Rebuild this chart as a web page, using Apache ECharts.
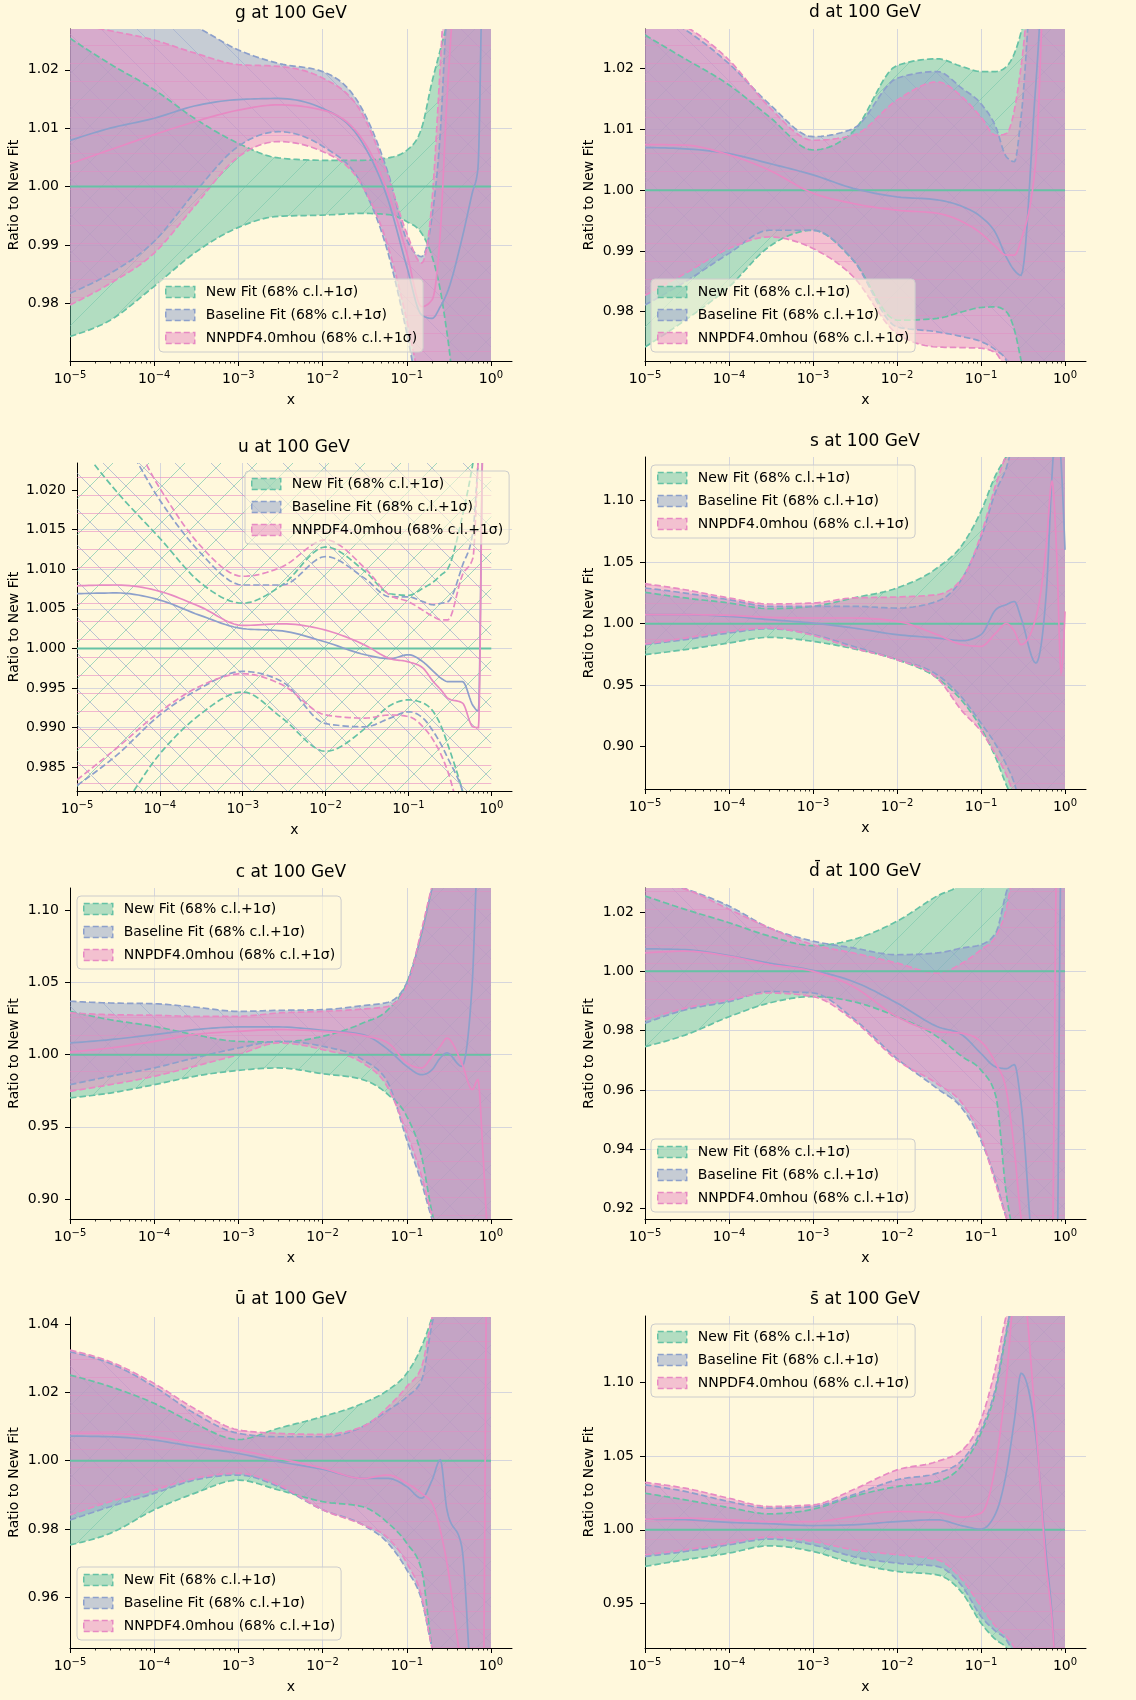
<!DOCTYPE html>
<html>
<head>
<meta charset="utf-8">
<script src="https://cdn.jsdelivr.net/npm/echarts@6/dist/echarts.min.js"></script>
<style>
html, body { margin: 0; padding: 0; background: #fff8dc; }
#chart { width: 1136px; height: 1700px; }
</style>
</head>
<body>
<div id="chart"></div>
<script>
// ================= DATA =================
const xs = [1e-5, 3e-5, 1e-4, 3e-4, 1e-3, 3e-3, 1e-2, 3e-2, 0.06, 0.1, 0.15, 0.2, 0.25, 0.3, 0.45, 0.6, 0.7, 0.8, 0.9, 1.0];
const newFitMid = [1, 1, 1, 1, 1, 1, 1, 1, 1, 1, 1, 1, 1, 1, 1, 1, 1, 1, 1, 1];

// g
const g_newUp  = [1.0254, 1.0210, 1.0166, 1.0117, 1.0074, 1.0049, 1.0045, 1.0045, 1.0049, 1.0062, 1.0100, 1.0180, 1.0234, 1.0280, 1.045, 1.05, 1.05, 1.05, 1.05, 1.05];
const g_newLo  = [0.9743, 0.9771, 0.9829, 0.9886, 0.9930, 0.9949, 0.9951, 0.9954, 0.9952, 0.9940, 0.9920, 0.9880, 0.9823, 0.9750, 0.955, 0.95, 0.95, 0.95, 0.95, 0.95];
const g_baseMid = [1.0079, 1.0100, 1.0117, 1.0138, 1.0149, 1.0151, 1.0134, 1.0074, 0.9977, 0.9863, 0.9780, 0.9774, 0.9794, 0.9817, 0.9909, 0.9989, 1.0030, 1.040, 1.05, 1.05];
const g_baseUp = [1.036, 1.033, 1.030, 1.0275, 1.0234, 1.0211, 1.0197, 1.0131, 1.0023, 0.9909, 0.9880, 0.9949, 1.0091, 1.030, 1.045, 1.05, 1.05, 1.05, 1.05, 1.05];
const g_baseLo = [0.9817, 0.9851, 0.9906, 0.9989, 1.0069, 1.0094, 1.0069, 1.0000, 0.9886, 0.9749, 0.962, 0.956, 0.955, 0.955, 0.955, 0.95, 0.95, 0.95, 0.95, 0.95];
const g_nnMid  = [1.0039, 1.0063, 1.0089, 1.0111, 1.0131, 1.0140, 1.0131, 1.0080, 0.9989, 0.9886, 0.9794, 0.9806, 0.9920, 1.0149, 1.045, 1.05, 1.05, 1.05, 1.05, 1.05];
const g_nnUp   = [1.028, 1.0267, 1.0251, 1.0229, 1.0209, 1.0206, 1.0186, 1.0123, 1.0017, 0.9920, 0.9869, 0.9977, 1.0206, 1.040, 1.05, 1.05, 1.05, 1.05, 1.05, 1.05];
const g_nnLo   = [0.9797, 0.9834, 0.9886, 0.9966, 1.0051, 1.0077, 1.0060, 1.0000, 0.9897, 0.9771, 0.965, 0.958, 0.960, 0.962, 0.955, 0.95, 0.95, 0.95, 0.95, 0.95];

// d
const d_newUp  = [1.0255, 1.0216, 1.0173, 1.0121, 1.0066, 1.0096, 1.0205, 1.0216, 1.0203, 1.0195, 1.0195, 1.0203, 1.0225, 1.0260, 1.04, 1.04, 1.04, 1.04, 1.04, 1.04];
const d_newLo  = [0.9742, 0.9786, 0.9841, 0.9907, 0.9934, 0.9885, 0.9786, 0.9789, 0.9800, 0.9807, 0.9808, 0.9800, 0.9770, 0.9720, 0.96, 0.96, 0.96, 0.96, 0.96, 0.96];
const d_baseMid = [1.0070, 1.0068, 1.0060, 1.0044, 1.0025, 1.0003, 0.9989, 0.9984, 0.9973, 0.9956, 0.9929, 0.9890, 0.9868, 0.9860, 1.0175, 1.04, 1.04, 1.04, 1.04, 1.04];
const d_baseUp = [1.030, 1.0264, 1.0208, 1.0142, 1.0088, 1.0101, 1.0184, 1.0195, 1.0167, 1.0142, 1.0104, 1.0055, 1.0047, 1.0120, 1.04, 1.04, 1.04, 1.04, 1.04, 1.04];
const d_baseLo = [0.9811, 0.9849, 0.9896, 0.9934, 0.9934, 0.9885, 0.9775, 0.9767, 0.9759, 0.9751, 0.9737, 0.9720, 0.968, 0.965, 0.96, 0.96, 0.96, 0.96, 0.96, 0.96];
const d_nnMid  = [1.0075, 1.0074, 1.0058, 1.0033, 0.9995, 0.9978, 0.9967, 0.9962, 0.9948, 0.9929, 0.9907, 0.9893, 0.9893, 0.9918, 1.0050, 1.04, 1.04, 1.04, 1.04, 1.04];
const d_nnUp   = [1.030, 1.027, 1.0214, 1.0137, 1.0082, 1.0090, 1.0148, 1.0178, 1.0153, 1.0120, 1.0090, 1.0093, 1.0132, 1.0203, 1.04, 1.04, 1.04, 1.04, 1.04, 1.04];
const d_nnLo   = [0.9827, 0.9863, 0.9904, 0.9923, 0.9904, 0.9858, 0.9764, 0.9742, 0.9741, 0.9740, 0.9732, 0.9700, 0.967, 0.965, 0.96, 0.96, 0.96, 0.96, 0.96, 0.96];

// u
const u_newUp  = [1.026, 1.0198, 1.0139, 1.0084, 1.0057, 1.0080, 1.0128, 1.0097, 1.0069, 1.0067, 1.0076, 1.0084, 1.0093, 1.0101, 1.0168, 1.0234, 1.028, 1.03, 1.03, 1.03];
const u_newLo  = [0.974, 0.979, 0.9867, 0.9916, 0.9945, 0.9912, 0.9870, 0.9899, 0.9928, 0.9935, 0.9931, 0.9920, 0.9901, 0.9878, 0.9820, 0.977, 0.975, 0.975, 0.975, 0.975];
const u_baseMid = [1.0069, 1.0070, 1.0061, 1.0042, 1.0025, 1.0022, 1.0008, 0.9992, 0.9987, 0.9992, 0.9983, 0.9971, 0.9962, 0.9958, 0.9958, 0.9928, 0.9921, 1.028, 1.03, 1.03];
const u_baseUp = [1.035, 1.028, 1.0187, 1.0122, 1.0080, 1.0080, 1.0116, 1.0088, 1.0065, 1.0065, 1.0059, 1.0055, 1.0057, 1.0059, 1.0105, 1.0147, 1.024, 1.03, 1.03, 1.03];
const u_baseLo = [0.9827, 0.9865, 0.9916, 0.9949, 0.9971, 0.9958, 0.9905, 0.9901, 0.9912, 0.9920, 0.9912, 0.9895, 0.9878, 0.9861, 0.9820, 0.977, 0.975, 0.975, 0.975, 0.975];
const u_nnMid  = [1.0079, 1.0080, 1.0072, 1.0053, 1.0029, 1.0031, 1.0023, 1.0004, 0.9987, 0.9983, 0.9975, 0.9958, 0.9947, 0.9937, 0.9931, 0.9901, 0.9900, 1.028, 1.03, 1.03];
const u_nnUp   = [1.036, 1.030, 1.0202, 1.0131, 1.0091, 1.0103, 1.0137, 1.0101, 1.0067, 1.0059, 1.0048, 1.0040, 1.0036, 1.0036, 1.0093, 1.0114, 1.024, 1.03, 1.03, 1.03];
const u_nnLo   = [0.9834, 0.9874, 0.9920, 0.9952, 0.9968, 0.9954, 0.9916, 0.9912, 0.9916, 0.9914, 0.9901, 0.9884, 0.9865, 0.9844, 0.978, 0.975, 0.975, 0.975, 0.975, 0.975];

// s
const s_newUp  = [1.0255, 1.0209, 1.0168, 1.0122, 1.0141, 1.0209, 1.0290, 1.0453, 1.0642, 1.0913, 1.1210, 1.1360, 1.150, 1.160, 1.17, 1.17, 1.17, 1.17, 1.17, 1.17];
const s_newLo  = [0.9748, 0.9789, 0.9843, 0.9889, 0.9856, 0.9797, 0.9707, 0.9558, 0.9369, 0.9152, 0.8908, 0.8690, 0.855, 0.845, 0.83, 0.83, 0.83, 0.83, 0.83, 0.83];
const s_baseMid = [1.0073, 1.0073, 1.0060, 1.0033, 1.0005, 0.9965, 0.9911, 0.9883, 0.9862, 0.9911, 1.0114, 1.0155, 1.0180, 1.0046, 0.9680, 1.0260, 1.1200, 1.17, 1.13, 1.06];
const s_baseUp = [1.0290, 1.0249, 1.0195, 1.0141, 1.0141, 1.0141, 1.0127, 1.0182, 1.0371, 1.0696, 1.1076, 1.1266, 1.150, 1.160, 1.17, 1.17, 1.17, 1.17, 1.17, 1.17];
const s_baseLo = [0.9829, 0.9870, 0.9924, 0.9959, 0.9911, 0.9816, 0.9707, 0.9585, 0.9396, 0.9192, 0.9016, 0.8854, 0.870, 0.850, 0.83, 0.83, 0.83, 0.83, 0.83, 0.83];
const s_nnMid  = [1.0073, 1.0073, 1.0068, 1.0051, 1.0046, 1.0046, 1.0019, 0.9911, 0.9829, 0.9816, 0.9924, 1.0000, 0.9938, 0.9829, 1.0046, 1.0640, 1.1157, 1.0530, 0.9600, 1.0100];
const s_nnUp   = [1.0325, 1.0276, 1.0209, 1.0160, 1.0168, 1.0209, 1.0217, 1.0236, 1.0371, 1.0724, 1.1130, 1.1370, 1.150, 1.160, 1.17, 1.17, 1.17, 1.17, 1.17, 1.17];
const s_nnLo   = [0.9835, 0.9883, 0.9938, 0.9965, 0.9905, 0.9802, 0.9707, 0.9558, 0.9287, 0.9125, 0.8935, 0.8772, 0.860, 0.845, 0.83, 0.83, 0.83, 0.83, 0.83, 0.83];

// c
const c_newUp  = [1.0300, 1.0242, 1.0196, 1.0139, 1.0092, 1.0088, 1.0127, 1.0219, 1.0312, 1.0497, 1.0843, 1.1155, 1.135, 1.14, 1.15, 1.15, 1.15, 1.15, 1.15, 1.15];
const c_newLo  = [0.9700, 0.9734, 0.9792, 0.9850, 0.9891, 0.9908, 0.9868, 0.9827, 0.9723, 0.9573, 0.9296, 0.8903, 0.870, 0.860, 0.85, 0.85, 0.85, 0.85, 0.85, 0.85];
const c_baseMid = [1.0081, 1.0104, 1.0139, 1.0173, 1.0192, 1.0192, 1.0169, 1.0139, 1.0035, 0.9919, 0.9861, 0.9896, 0.9977, 1.0012, 0.9919, 1.0500, 1.1400, 1.15, 1.15, 1.15];
const c_baseUp = [1.0370, 1.0358, 1.0353, 1.0330, 1.0300, 1.0307, 1.0312, 1.0340, 1.0363, 1.0497, 1.0840, 1.1155, 1.135, 1.14, 1.15, 1.15, 1.15, 1.15, 1.15, 1.15];
const c_baseLo = [0.9792, 0.9850, 0.9908, 0.9977, 1.0046, 1.0092, 1.0058, 0.9965, 0.9804, 0.9411, 0.9111, 0.8860, 0.870, 0.860, 0.85, 0.85, 0.85, 0.85, 0.85, 0.85];
const c_nnMid  = [1.0018, 1.0046, 1.0092, 1.0139, 1.0162, 1.0173, 1.0162, 1.0132, 1.0081, 0.9942, 0.9908, 0.9988, 1.0058, 1.0115, 0.9942, 0.9758, 0.9827, 0.9340, 0.8800, 0.8500];
const c_nnUp   = [1.0289, 1.0277, 1.0273, 1.0266, 1.0266, 1.0289, 1.0300, 1.0316, 1.0335, 1.0473, 1.0866, 1.1166, 1.135, 1.14, 1.15, 1.15, 1.15, 1.15, 1.15, 1.15];
const c_nnLo   = [0.9746, 0.9792, 0.9850, 0.9919, 1.0000, 1.0081, 1.0035, 0.9942, 0.9769, 0.9457, 0.9157, 0.8880, 0.870, 0.860, 0.85, 0.85, 0.85, 0.85, 0.85, 0.85];

// d-bar
const db_newUp  = [1.0254, 1.0209, 1.0164, 1.0119, 1.0087, 1.0107, 1.0169, 1.0254, 1.0300, 1.0400, 1.0450, 1.0500, 1.05, 1.05, 1.05, 1.05, 1.05, 1.05, 1.05, 1.05];
const db_newLo  = [0.9746, 0.9785, 0.9847, 0.9893, 0.9915, 0.9898, 0.9847, 0.9780, 0.9712, 0.9667, 0.9580, 0.9250, 0.910, 0.900, 0.89, 0.89, 0.89, 0.89, 0.89, 0.89];
const db_baseMid = [1.0076, 1.0073, 1.0053, 1.0028, 1.0003, 0.9966, 0.9893, 0.9814, 0.9785, 0.9723, 0.9678, 0.9672, 0.9685, 0.9554, 0.900, 0.900, 0.900, 0.900, 1.040, 1.040];
const db_baseUp = [1.0320, 1.0279, 1.0220, 1.0147, 1.0102, 1.0079, 1.0056, 1.0062, 1.0079, 1.0090, 1.0130, 1.0266, 1.035, 1.040, 1.045, 1.045, 1.045, 1.045, 1.045, 1.045];
const db_baseLo = [0.9825, 0.9870, 0.9898, 0.9932, 0.9927, 0.9842, 0.9706, 0.9605, 0.9537, 0.9429, 0.9294, 0.9170, 0.910, 0.905, 0.90, 0.90, 0.90, 0.90, 0.90, 0.90];
const db_nnMid  = [1.0062, 1.0068, 1.0051, 1.0023, 1.0000, 0.9949, 0.9847, 0.9797, 0.9791, 0.9763, 0.9689, 0.9599, 0.9395, 0.9170, 0.900, 0.900, 0.900, 1.040, 1.040, 1.040];
const db_nnUp   = [1.0300, 1.0277, 1.0209, 1.0147, 1.0090, 1.0062, 1.0028, 0.9994, 1.0028, 1.0073, 1.0119, 1.0209, 1.035, 1.040, 1.045, 1.045, 1.045, 1.045, 1.045, 1.045];
const db_nnLo   = [0.9836, 0.9876, 0.9904, 0.9927, 0.9915, 0.9836, 0.9701, 0.9621, 0.9554, 0.9441, 0.9282, 0.9170, 0.910, 0.905, 0.90, 0.90, 0.90, 0.90, 0.90, 0.90];

// u-bar
const ub_newUp  = [1.0251, 1.0217, 1.0168, 1.0109, 1.0062, 1.0095, 1.0129, 1.0168, 1.0207, 1.0256, 1.0334, 1.0420, 1.050, 1.055, 1.06, 1.06, 1.06, 1.06, 1.06, 1.06];
const ub_newLo  = [0.9753, 0.9787, 0.9856, 0.9904, 0.9943, 0.9914, 0.9880, 0.9865, 0.9817, 0.9758, 0.9680, 0.9450, 0.935, 0.930, 0.92, 0.92, 0.92, 0.92, 0.92, 0.92];
const ub_baseMid = [1.0072, 1.0070, 1.0060, 1.0041, 1.0021, 0.9997, 0.9975, 0.9948, 0.9948, 0.9924, 0.9890, 0.9943, 1.0002, 0.9856, 0.9748, 0.930, 0.920, 0.920, 0.920, 0.920];
const ub_baseUp = [1.0319, 1.0285, 1.0217, 1.0139, 1.0080, 1.0070, 1.0070, 1.0100, 1.0148, 1.0187, 1.0236, 1.0402, 1.050, 1.055, 1.06, 1.06, 1.06, 1.06, 1.06, 1.06];
const ub_baseLo = [0.9826, 0.9865, 0.9904, 0.9943, 0.9958, 0.9924, 0.9856, 0.9812, 0.9758, 0.9680, 0.9592, 0.9450, 0.935, 0.930, 0.92, 0.92, 0.92, 0.92, 0.92, 0.92];
const ub_nnMid  = [1.0080, 1.0080, 1.0070, 1.0051, 1.0031, 1.0007, 0.9978, 0.9948, 0.9958, 0.9934, 0.9904, 0.9875, 0.9797, 0.9700, 0.9400, 0.930, 0.920, 0.920, 1.060, 1.060];
const ub_nnUp   = [1.0324, 1.0290, 1.0226, 1.0153, 1.0090, 1.0080, 1.0077, 1.0100, 1.0158, 1.0217, 1.0275, 1.0420, 1.050, 1.055, 1.06, 1.06, 1.06, 1.06, 1.06, 1.06];
const ub_nnLo   = [0.9841, 0.9880, 0.9914, 0.9948, 0.9963, 0.9929, 0.9856, 0.9812, 0.9773, 0.9700, 0.9602, 0.9450, 0.935, 0.930, 0.92, 0.92, 0.92, 0.92, 0.92, 0.92];

// s-bar
const sb_newUp  = [1.0248, 1.0203, 1.0151, 1.0108, 1.0140, 1.0226, 1.0293, 1.0327, 1.0440, 1.0655, 1.0948, 1.1330, 1.160, 1.170, 1.18, 1.18, 1.18, 1.18, 1.18, 1.18];
const sb_newLo  = [0.9752, 0.9797, 0.9842, 0.9892, 0.9853, 0.9774, 0.9718, 0.9695, 0.9571, 0.9368, 0.9255, 0.9200, 0.910, 0.900, 0.89, 0.89, 0.89, 0.89, 0.89, 0.89];
const sb_baseMid = [1.0072, 1.0068, 1.0050, 1.0041, 1.0029, 1.0034, 1.0056, 1.0068, 1.0027, 1.0005, 1.0113, 1.0384, 1.0745, 1.1060, 1.0630, 0.9820, 0.9436, 0.900, 0.900, 0.900];
const sb_baseUp = [1.0305, 1.0260, 1.0192, 1.0147, 1.0158, 1.0237, 1.0339, 1.0384, 1.0474, 1.0677, 1.0970, 1.1350, 1.160, 1.170, 1.18, 1.18, 1.18, 1.18, 1.18, 1.18];
const sb_baseLo = [0.9819, 0.9853, 0.9898, 0.9937, 0.9898, 0.9819, 0.9774, 0.9752, 0.9616, 0.9413, 0.9312, 0.9255, 0.915, 0.905, 0.89, 0.89, 0.89, 0.89, 0.89, 0.89];
const sb_nnMid  = [1.0072, 1.0079, 1.0068, 1.0056, 1.0056, 1.0090, 1.0124, 1.0117, 1.0086, 1.0113, 1.0451, 1.1016, 1.160, 1.170, 1.0700, 0.9750, 0.9400, 0.900, 0.900, 0.900];
const sb_nnUp   = [1.0321, 1.0282, 1.0214, 1.0158, 1.0169, 1.0271, 1.0406, 1.0463, 1.0542, 1.0745, 1.1106, 1.1450, 1.160, 1.170, 1.18, 1.18, 1.18, 1.18, 1.18, 1.18];
const sb_nnLo   = [0.9831, 0.9865, 0.9910, 0.9950, 0.9921, 0.9865, 0.9831, 0.9797, 0.9661, 0.9481, 0.9345, 0.9278, 0.920, 0.910, 0.89, 0.89, 0.89, 0.89, 0.89, 0.89];

// axes / ticks
const xTickValues = [1e-5, 1e-4, 1e-3, 1e-2, 1e-1, 1];
const xTickBase = '10';
const xTickExponents = ['−5', '−4', '−3', '−2', '−1', '0'];
const xLimits = [1e-5, 1.7783];

const g_yRange = [0.9701, 1.0270];
const g_yTicks = [0.98, 0.99, 1.00, 1.01, 1.02];
const g_yTickLabels = ['0.98', '0.99', '1.00', '1.01', '1.02'];
const d_yRange = [0.9719, 1.0265];
const d_yTicks = [0.98, 0.99, 1.00, 1.01, 1.02];
const d_yTickLabels = ['0.98', '0.99', '1.00', '1.01', '1.02'];
const u_yRange = [0.9820, 1.0234];
const u_yTicks = [0.985, 0.990, 0.995, 1.000, 1.005, 1.010, 1.015, 1.020];
const u_yTickLabels = ['0.985', '0.990', '0.995', '1.000', '1.005', '1.010', '1.015', '1.020'];
const s_yRange = [0.8656, 1.1355];
const s_yTicks = [0.90, 0.95, 1.00, 1.05, 1.10];
const s_yTickLabels = ['0.90', '0.95', '1.00', '1.05', '1.10'];
const c_yRange = [0.8861, 1.1155];
const c_yTicks = [0.90, 0.95, 1.00, 1.05, 1.10];
const c_yTickLabels = ['0.90', '0.95', '1.00', '1.05', '1.10'];
const db_yRange = [0.9165, 1.0281];
const db_yTicks = [0.92, 0.94, 0.96, 0.98, 1.00, 1.02];
const db_yTickLabels = ['0.92', '0.94', '0.96', '0.98', '1.00', '1.02'];
const ub_yRange = [0.9451, 1.0421];
const ub_yTicks = [0.96, 0.98, 1.00, 1.02, 1.04];
const ub_yTickLabels = ['0.96', '0.98', '1.00', '1.02', '1.04'];
const sb_yRange = [0.9199, 1.1449];
const sb_yTicks = [0.95, 1.00, 1.05, 1.10];
const sb_yTickLabels = ['0.95', '1.00', '1.05', '1.10'];

const panelTitles = ['g at 100 GeV', 'd at 100 GeV', 'u at 100 GeV', 's at 100 GeV', 'c at 100 GeV', 'd\u0304 at 100 GeV', 'ū at 100 GeV', 's\u0304 at 100 GeV'];
const legendNames = ['New Fit (68% c.l.+1σ)', 'Baseline Fit (68% c.l.+1σ)', 'NNPDF4.0mhou (68% c.l.+1σ)'];
const yAxisName = 'Ratio to New Fit';
const xAxisName = 'x';

// ================= LAYOUT / STYLE =================
const FONT = 'DejaVu Sans';
const gridBoxes = [[70, 29, 442, 332], [645, 29, 441, 332], [77, 463, 435, 328], [645, 457, 441, 332],
                   [70, 888, 442, 331], [645, 888, 441, 331], [70, 1317, 442, 331], [645, 1316, 441, 332]];
const titlePos = [[291, 14], [865, 13], [294, 448], [865, 442], [291, 873], [865, 872], [291, 1300], [865, 1300]];
const legendPos = [[159, 279], [651, 279], [245, 471], [651, 465], [77, 896], [651, 1139], [77, 1567], [651, 1324]];
const yNameGap = [49, 49, 56, 49, 49, 49, 49, 49];
const ySplit = [5, 5, 7, 5, 5, 5, 5, 5];
const gridColor = '#d6d6dc';
const fitColors = ['#66c2a5', '#8da0cb', '#e78ac3'];
const fitRGB = ['102,194,165', '141,160,203', '231,138,195'];
const hatchKinds = ['/', '\\', '-'];
const hatchSizes = [36, 36, 18];

const panels = [
  {mids: [newFitMid, g_baseMid, g_nnMid], ups: [g_newUp, g_baseUp, g_nnUp], los: [g_newLo, g_baseLo, g_nnLo], yRange: g_yRange, yTicks: g_yTicks, yLabels: g_yTickLabels},
  {mids: [newFitMid, d_baseMid, d_nnMid], ups: [d_newUp, d_baseUp, d_nnUp], los: [d_newLo, d_baseLo, d_nnLo], yRange: d_yRange, yTicks: d_yTicks, yLabels: d_yTickLabels},
  {mids: [newFitMid, u_baseMid, u_nnMid], ups: [u_newUp, u_baseUp, u_nnUp], los: [u_newLo, u_baseLo, u_nnLo], yRange: u_yRange, yTicks: u_yTicks, yLabels: u_yTickLabels, noFill: true},
  {mids: [newFitMid, s_baseMid, s_nnMid], ups: [s_newUp, s_baseUp, s_nnUp], los: [s_newLo, s_baseLo, s_nnLo], yRange: s_yRange, yTicks: s_yTicks, yLabels: s_yTickLabels},
  {mids: [newFitMid, c_baseMid, c_nnMid], ups: [c_newUp, c_baseUp, c_nnUp], los: [c_newLo, c_baseLo, c_nnLo], yRange: c_yRange, yTicks: c_yTicks, yLabels: c_yTickLabels},
  {mids: [newFitMid, db_baseMid, db_nnMid], ups: [db_newUp, db_baseUp, db_nnUp], los: [db_newLo, db_baseLo, db_nnLo], yRange: db_yRange, yTicks: db_yTicks, yLabels: db_yTickLabels},
  {mids: [newFitMid, ub_baseMid, ub_nnMid], ups: [ub_newUp, ub_baseUp, ub_nnUp], los: [ub_newLo, ub_baseLo, ub_nnLo], yRange: ub_yRange, yTicks: ub_yTicks, yLabels: ub_yTickLabels},
  {mids: [newFitMid, sb_baseMid, sb_nnMid], ups: [sb_newUp, sb_baseUp, sb_nnUp], los: [sb_newLo, sb_baseLo, sb_nnLo], yRange: sb_yRange, yTicks: sb_yTicks, yLabels: sb_yTickLabels}
];

// ================= HELPERS =================
function makeHatch(kind, size, fillCol, lineCol) {
  const c = document.createElement('canvas');
  c.width = size; c.height = size;
  const ctx = c.getContext('2d');
  if (fillCol) { ctx.fillStyle = fillCol; ctx.fillRect(0, 0, size, size); }
  ctx.strokeStyle = lineCol; ctx.lineWidth = 1;
  ctx.beginPath();
  if (kind === '-') { ctx.moveTo(0, size / 2 + 0.5); ctx.lineTo(size, size / 2 + 0.5); }
  else {
    for (const k of [-1, 0, 1]) {
      if (kind === '/') { ctx.moveTo(k * size, size); ctx.lineTo(k * size + size, 0); }
      else { ctx.moveTo(k * size, 0); ctx.lineTo(k * size + size, size); }
    }
  }
  ctx.stroke();
  return {image: c, repeat: 'repeat'};
}
const fillPatterns = fitRGB.map((c, f) => makeHatch(hatchKinds[f], hatchSizes[f], 'rgba(' + c + ',0.5)', 'rgba(' + c + ',0.45)'));
const hatchOnly = fitRGB.map((c, f) => makeHatch(hatchKinds[f], hatchSizes[f], null, 'rgba(' + c + ',0.6)'));

// monotone cubic (pixel space) sampling of the points returned by the axes
function smoothPts(pts, steps) {
  steps = steps || 10;
  const n = pts.length, h = [], s = [], t = new Array(n);
  for (let i = 0; i < n - 1; i++) {
    h[i] = pts[i + 1][0] - pts[i][0];
    s[i] = (pts[i + 1][1] - pts[i][1]) / h[i];
  }
  for (let i = 1; i < n - 1; i++) {
    const p = (s[i - 1] * h[i] + s[i] * h[i - 1]) / (h[i - 1] + h[i]);
    t[i] = (Math.sign(s[i - 1]) + Math.sign(s[i])) * Math.min(Math.abs(s[i - 1]), Math.abs(s[i]), 0.5 * Math.abs(p)) || 0;
  }
  t[0] = (3 * s[0] - t[1]) / 2;
  t[n - 1] = (3 * s[n - 2] - t[n - 2]) / 2;
  const out = [pts[0]];
  for (let i = 0; i < n - 1; i++) {
    const x0 = pts[i][0], y0 = pts[i][1], x1 = pts[i + 1][0], y1 = pts[i + 1][1];
    const dd = h[i] / 3;
    const c1x = x0 + dd, c1y = y0 + t[i] * dd, c2x = x1 - dd, c2y = y1 - t[i + 1] * dd;
    for (let k = 1; k <= steps; k++) {
      const u = k / steps, v = 1 - u;
      out.push([v * v * v * x0 + 3 * v * v * u * c1x + 3 * v * u * u * c2x + u * u * u * x1,
                v * v * v * y0 + 3 * v * v * u * c1y + 3 * v * u * u * c2y + u * u * u * y1]);
    }
  }
  return out;
}
function clipGroup(cs, children) {
  return {type: 'group', clipPath: {type: 'rect', shape: {x: cs.x, y: cs.y, width: cs.width, height: cs.height}}, children: children};
}
function curve(api, arr) { return smoothPts(xs.map((x, i) => api.coord([x, arr[i]]))); }

function bandFill(p, f) {
  const P = panels[p];
  return {
    type: 'custom', name: legendNames[f], xAxisIndex: p, yAxisIndex: p, silent: true,
    data: [[xs[0], P.mids[f][0]]], encode: {x: 0, y: 1}, itemStyle: {color: fitColors[f]},
    renderItem: function (params, api) {
      const up = curve(api, P.ups[f]);
      const lo = curve(api, P.los[f]).reverse();
      return clipGroup(params.coordSys, [{type: 'polygon', shape: {points: up.concat(lo)}, style: {fill: fillPatterns[f], stroke: 'none'}}]);
    }
  };
}
function bandEdges(p, f) {
  const P = panels[p];
  return {
    type: 'custom', name: legendNames[f], xAxisIndex: p, yAxisIndex: p, silent: true,
    data: [[xs[0], P.mids[f][0]]], encode: {x: 0, y: 1}, itemStyle: {color: fitColors[f]},
    renderItem: function (params, api) {
      const st = {fill: 'none', stroke: fitColors[f], lineWidth: 1.7, lineDash: [6.5, 3]};
      return clipGroup(params.coordSys, [
        {type: 'polyline', shape: {points: curve(api, P.ups[f])}, style: st},
        {type: 'polyline', shape: {points: curve(api, P.los[f])}, style: st}
      ]);
    }
  };
}
function centralLine(p, f) {
  const P = panels[p];
  return {
    type: 'custom', name: legendNames[f], xAxisIndex: p, yAxisIndex: p, silent: true,
    data: [[xs[0], P.mids[f][0]]], encode: {x: 0, y: 1}, itemStyle: {color: fitColors[f]},
    renderItem: function (params, api) {
      return clipGroup(params.coordSys, [
        {type: 'polyline', shape: {points: curve(api, P.mids[f])}, style: {fill: 'none', stroke: fitColors[f], lineWidth: f === 0 ? 2 : 1.7}}
      ]);
    }
  };
}
function xLabel(v) {
  const i = xTickValues.findIndex(t => Math.abs(Math.log10(t) - Math.log10(v)) < 1e-6);
  return i < 0 ? '' : '{b|' + xTickBase + '}{s|' + xTickExponents[i] + '}';
}
function yLabel(P, v) {
  const i = P.yTicks.findIndex(t => Math.abs(t - v) < 1e-7);
  return i < 0 ? '' : P.yLabels[i];
}

// ================= OPTION =================
const grids = [], xAxes = [], yAxes = [], legends = [], series = [], graphics = [];
panels.forEach((P, p) => {
  const b = gridBoxes[p];
  grids.push({left: b[0], top: b[1], width: b[2], height: b[3], containLabel: false, show: false});
  xAxes.push({
    type: 'log', logBase: 10, gridIndex: p, min: xLimits[0], max: xLimits[1],
    axisLine: {show: true, onZero: false, lineStyle: {color: '#000', width: 1}},
    axisTick: {show: true, length: 5, lineStyle: {color: '#000', width: 1}, customValues: xTickValues},
    minorTick: {show: true, splitNumber: 9, length: 2.5, lineStyle: {color: '#000', width: 0.8}},
    axisLabel: {
      customValues: xTickValues, formatter: xLabel, color: '#000', fontFamily: FONT, margin: 9,
      rich: {
        b: {fontSize: 14, lineHeight: 18, fontFamily: FONT, color: '#000'},
        s: {fontSize: 10, lineHeight: 11, verticalAlign: 'top', fontFamily: FONT, color: '#000'}
      }
    },
    splitLine: {show: true, showMinLine: false, showMaxLine: false, lineStyle: {color: gridColor, width: 1}},
    name: xAxisName, nameLocation: 'middle', nameGap: 32, nameTextStyle: {fontSize: 14, color: '#000', fontFamily: FONT}
  });
  yAxes.push({
    type: 'value', gridIndex: p, min: P.yRange[0], max: P.yRange[1], splitNumber: ySplit[p],
    axisLine: {show: true, onZero: false, lineStyle: {color: '#000', width: 1}},
    axisTick: {show: true, length: 5, lineStyle: {color: '#000', width: 1}, customValues: P.yTicks},
    axisLabel: {customValues: P.yTicks, formatter: v => yLabel(P, v), color: '#000', fontSize: 14, fontFamily: FONT, margin: 11},
    splitLine: {show: true, showMinLine: false, showMaxLine: false, lineStyle: {color: gridColor, width: 1}},
    name: yAxisName, nameLocation: 'middle', nameGap: yNameGap[p], nameTextStyle: {fontSize: 14, color: '#000', fontFamily: FONT}
  });
  legends.push({
    orient: 'vertical', left: legendPos[p][0], top: legendPos[p][1], selectedMode: false,
    itemWidth: 29, itemHeight: 11, itemGap: 9, padding: [6, 6, 7, 6],
    backgroundColor: 'rgba(255,248,220,0.6)', borderColor: '#cccccc', borderWidth: 1, borderRadius: 4,
    textStyle: {fontSize: 14, color: '#000', fontFamily: FONT, lineHeight: 14, padding: [0, 0, 0, 6]},
    data: legendNames.map((n, f) => ({
      name: n, icon: 'rect',
      itemStyle: {color: 'rgba(' + fitRGB[f] + ',0.5)', borderColor: fitColors[f], borderWidth: 1.5, borderType: 'dashed'}
    }))
  });
  graphics.push({
    type: 'text', x: titlePos[p][0], y: titlePos[p][1], silent: true,
    style: {text: panelTitles[p], font: '17px "' + FONT + '"', fill: '#000', textAlign: 'center', textVerticalAlign: 'middle', verticalAlign: 'middle'}
  });
});

// u panel: hatching over the whole x range
series.push({
  type: 'custom', xAxisIndex: 2, yAxisIndex: 2, silent: true,
  data: [[xs[0], u_yRange[0]]], encode: {x: 0, y: 1},
  renderItem: function (params, api) {
    const a = api.coord([xs[0], u_yRange[1]]), b = api.coord([xs[xs.length - 1], u_yRange[0]]);
    const shape = {x: a[0], y: a[1], width: b[0] - a[0], height: b[1] - a[1]};
    return clipGroup(params.coordSys, [0, 1, 2].map(f => ({type: 'rect', shape: shape, style: {fill: hatchOnly[f], stroke: 'none'}})));
  }
});
panels.forEach((P, p) => {
  if (!P.noFill) for (let f = 0; f < 3; f++) series.push(bandFill(p, f));
  for (let f = 0; f < 3; f++) series.push(bandEdges(p, f));
  for (let f = 0; f < 3; f++) series.push(centralLine(p, f));
});

const chart = echarts.init(document.getElementById('chart'), null, {renderer: 'canvas'});
chart.setOption({
  backgroundColor: '#fff8dc',
  animation: false,
  textStyle: {fontFamily: FONT},
  grid: grids, xAxis: xAxes, yAxis: yAxes, legend: legends,
  graphic: graphics, series: series
});
</script>
</body>
</html>
